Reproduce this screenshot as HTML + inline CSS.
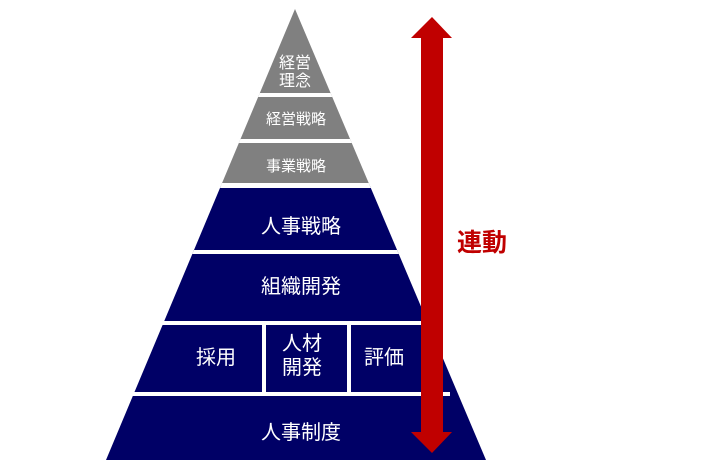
<!DOCTYPE html>
<html><head><meta charset="utf-8"><style>
html,body{margin:0;padding:0;background:#fff;width:725px;height:469px;overflow:hidden}
text{font-family:"Liberation Sans","Noto Sans CJK JP",sans-serif;fill:#fff}
</style></head><body>
<svg width="725" height="469" viewBox="0 0 725 469" xmlns="http://www.w3.org/2000/svg">
<defs><clipPath id="p"><polygon points="295,9 486,460 106,460"/></clipPath></defs>
<g clip-path="url(#p)">
<rect x="0" y="0" width="725" height="186" fill="#808080"/>
<rect x="0" y="186" width="725" height="290" fill="#000066"/>
<rect x="0" y="93" width="725" height="4" fill="#fff"/>
<rect x="0" y="139" width="725" height="4" fill="#fff"/>
<rect x="0" y="183" width="725" height="5" fill="#fff"/>
<rect x="0" y="250" width="725" height="4" fill="#fff"/>
<rect x="262" y="322" width="4" height="72" fill="#fff"/>
<rect x="347" y="322" width="4" height="72" fill="#fff"/>
</g>
<rect x="130" y="321" width="320" height="4" fill="#fff"/>
<rect x="100" y="392" width="350" height="4" fill="#fff"/>
<text x="295" y="68" font-size="16" text-anchor="middle">経営</text>
<text x="295" y="86" font-size="16" text-anchor="middle">理念</text>
<text x="296" y="124" font-size="15" text-anchor="middle">経営戦略</text>
<text x="296" y="171" font-size="15" text-anchor="middle">事業戦略</text>
<text x="301" y="233" font-size="20" text-anchor="middle">人事戦略</text>
<text x="301" y="293" font-size="20" text-anchor="middle">組織開発</text>
<text x="216" y="364" font-size="20" text-anchor="middle">採用</text>
<text x="302" y="350" font-size="20" text-anchor="middle">人材</text>
<text x="302" y="374" font-size="20" text-anchor="middle">開発</text>
<text x="384" y="364" font-size="20" text-anchor="middle">評価</text>
<text x="301" y="439" font-size="20" text-anchor="middle">人事制度</text>
<polygon points="432,17 452,38 443,38 443,432 452,432 432,453 411,432 421,432 421,38 411,38" fill="#c00000"/>
<text x="457" y="251" font-size="25" font-weight="bold" style="fill:#c00000">連動</text>
</svg>
</body></html>
